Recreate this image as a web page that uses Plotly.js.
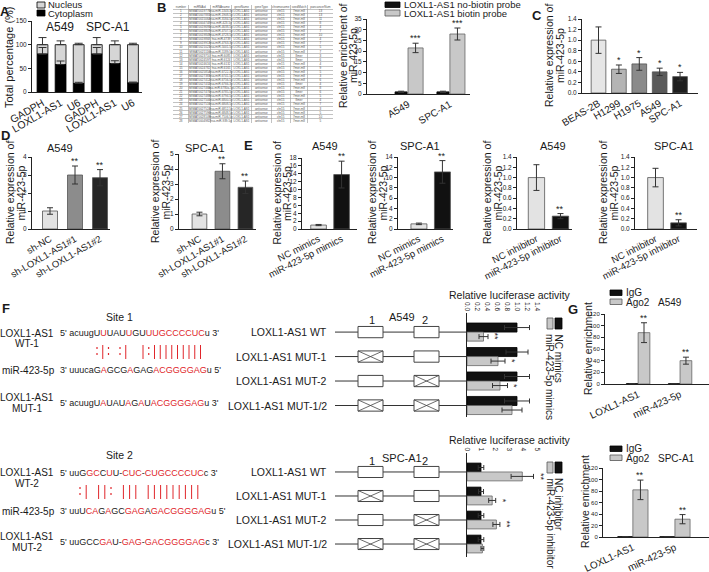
<!DOCTYPE html>
<html>
<head>
<meta charset="utf-8">
<script src="https://cdn.plot.ly/plotly-3.0.1.min.js"></script>
<style>html,body{margin:0;padding:0;background:#fff}#fig{width:709px;height:572px}</style>
</head>
<body>
<div id="fig"></div>
<script>
// ---------- A: nuclear / cytoplasmic fractionation ----------
const fracGenes = ['GADPH', 'LOXL1-AS1', 'U6', 'GADPH', 'LOXL1-AS1', 'U6'];
const cytoplasm = [80, 58, 18, 80, 60, 19];
const cytoplasmErr = [14, 7.5, 2.5, 14, 6, 2];
const nucleus = [20, 42, 82, 20, 40, 81];
const nucleusErr = [15, 8, 3, 15, 8, 3];

// ---------- B: starBase table + biotin pull-down ----------
const tblHeader = ['number', 'miRNAid', 'miRNAname', 'geneName', 'geneType', 'chromosome', 'seedMatch', 'pancancerNum'];
const tblNumber = ['1','2','3','4','5','6','7','8','9','10','11','12','13','14','15','16','17','18','19','20','21','22','23','24','25','26','27','28'];
const tblMirId = ['MIMAT0019776','MIMAT0007881','MIMAT0015064','MIMAT0004748','MIMAT0019695','MIMAT0019807','MIMAT0019849','MIMAT0019868','MIMAT0019913','MIMAT0021021','MIMAT0021116','MIMAT0023710','MIMAT0024597','MIMAT0024616','MIMAT0024782','MIMAT0025854','MIMAT0027383','MIMAT0027412','MIMAT0027432','MIMAT0027460','MIMAT0027470','MIMAT0027488','MIMAT0027500','MIMAT0027516','MIMAT0027524','MIMAT0027596','MIMAT0028109','MIMAT0004982'];
const tblMirName = ['hsa-miR-1343-3p','hsa-miR-1908-5p','hsa-miR-3184-5p','hsa-miR-423-5p','hsa-miR-4638-5p','hsa-miR-4707-5p','hsa-miR-4728-5p','hsa-miR-4739','hsa-miR-4763-3p','hsa-miR-5001-5p','hsa-miR-5189-5p','hsa-miR-6085','hsa-miR-6124','hsa-miR-6132','hsa-miR-6165','hsa-miR-6722-3p','hsa-miR-6741-5p','hsa-miR-6756-5p','hsa-miR-6766-3p','hsa-miR-6780a-5p','hsa-miR-6785-5p','hsa-miR-6794-5p','hsa-miR-6800-5p','hsa-miR-6808-5p','hsa-miR-6812-5p','hsa-miR-6848-5p','hsa-miR-7106-5p','hsa-miR-939-5p'];
const tblSeed = ['7mer-m8','7mer-m8','7mer-m8','7mer-m8','7mer-m8','7mer-m8','7mer-m8','7mer-m8','7mer-m8','7mer-m8','7mer-m8','8mer','8mer','7mer-m8','7mer-m8','7mer-m8','7mer-m8','7mer-m8','8mer','7mer-m8','8mer','7mer-m8','8mer','7mer-m8','7mer-m8','7mer-m8','7mer-m8','7mer-m8'];
const tblPancancer = ['13','13','11','8','4','7','10','4','7','5','7','3','6','4','9','5','3','6','4','8','6','5','4','7','3','5','10','5'];
const tblGeneName = 'LOXL1-AS1';
const tblGeneType = 'antisense';
const tblChrom = 'chr15';
const tblColWidths = [15, 21, 20, 19, 19, 18, 17, 24];

const pullCells = ['A549', 'SPC-A1'];
const pullNames = ['LOXL1-AS1 no-biotin probe', 'LOXL1-AS1 biotin probe'];
const noBiotin = [1.0, 1.0];
const noBiotinErr = [0.3, 0.3];
const biotin = [21.5, 28.0];
const biotinErr = [2.2, 2.8];

// ---------- C: cell lines ----------
const cLines = ['BEAS-2B', 'H1299', 'H1975', 'A549', 'SPC-A1'];
const cExpr = [1.0, 0.45, 0.55, 0.40, 0.31];
const cErr = [0.25, 0.08, 0.12, 0.07, 0.08];
const cStars = ['', '*', '*', '*', '*'];

// ---------- D: knockdown ----------
const dGroups = ['sh-NC', 'sh-LOXL1-AS1#1', 'sh-LOXL1-AS1#2'];
const dA549 = [1.0, 3.0, 2.85];
const dA549Err = [0.18, 0.5, 0.45];
const dSPC = [1.0, 3.85, 2.78];
const dSPCErr = [0.12, 0.5, 0.42];
const dStars = ['', '**', '**'];

// ---------- E: mimics / inhibitor ----------
const mimicGroups = ['NC mimics', 'miR-423-5p mimics'];
const inhibGroups = ['NC inhibitor', 'miR-423-5p inhibitor'];
const eA549Mim = [1.0, 13.8];
const eA549MimErr = [0.15, 3.4];
const eSPCMim = [1.0, 11.1];
const eSPCMimErr = [0.15, 2.2];
const eA549Inh = [1.0, 0.25];
const eA549InhErr = [0.25, 0.05];
const eSPCInh = [1.0, 0.12];
const eSPCInhErr = [0.18, 0.06];
const eStars = ['', '**'];

// ---------- F: luciferase ----------
const constructs = ['LOXL1-AS1 WT', 'LOXL1-AS1 MUT-1', 'LOXL1-AS1 MUT-2', 'LOXL1-AS1 MUT-1/2'];
const site1Mut = [false, true, false, true];
const site2Mut = [false, false, true, true];
const lucA549NC = [1.0, 1.0, 1.0, 1.0];
const lucA549NCErr = [0.25, 0.22, 0.25, 0.25];
const lucA549Mim = [0.33, 0.62, 0.66, 0.90];
const lucA549MimErr = [0.09, 0.14, 0.15, 0.2];
const lucA549Stars = ['**', '*', '*', ''];
const lucSPCNC = [1.0, 1.0, 1.0, 1.0];
const lucSPCNCErr = [0.2, 0.18, 0.2, 0.2];
const lucSPCInh = [3.95, 1.8, 2.1, 1.1];
const lucSPCInhErr = [0.8, 0.25, 0.25, 0.1];
const lucSPCStars = ['**', '*', '**', ''];
const lucA549Names = ['NC mimics', 'miR-423-5p mimics'];
const lucSPCNames = ['NC inhibitor', 'miR-423-5p inhibitor'];

// sequences: [..] marks red bases
const site1 = {
  wt: "acuugU[U]UAU[U]GU[UUGCCCCUC]u",
  mir: "uuucaG[A]GCG[A]GAG[ACGGGGAG]u",
  mut: "acuugU[A]UAU[A]G[A]U[ACGGGGAG]u",
  pairs: ":|: :|  |:|||||||||"
};
const site2 = {
  wt: "uuG[GC]C[U]U-[CUC]-[CUGCCCCUC]c",
  mir: "uuU[CA]G[A]GC[GAG]A[GACGGGGAG]u",
  mut: "uuGCC[GA]U-[GAG]-[GACGGGGAG]c",
  pairs: ":| ||: ||| |||||||||"
};

// ---------- G: RIP ----------
const ripTargets = ['LOXL1-AS1', 'miR-423-5p'];
const ripNames = ['IgG', 'Ago2'];
const igGA549 = [0.6, 0.5];
const ago2A549 = [88, 40];
const ago2A549Err = [17, 6];
const igGSPC = [0.6, 0.5];
const ago2SPC = [82, 31];
const ago2SPCErr = [17, 8];
const gStars = ['**', '**'];

// ================= drawing =================
const W = 709, H = 572;
const RED = '#e0262b';
const FONT = 'Liberation Sans, Arial, sans-serif';
const fx = v => v / W;
const fy = v => 1 - v / H;
const id = n => (n === 1 ? '' : n);
const idx = a => a.map((_, i) => i);
const rep = (v, n) => Array.from({length: n}, () => v);

const traces = [];
const annotations = [];
const shapes = [];

function ann(x, y, text, size, extra) {
  annotations.push(Object.assign({
    xref: 'paper', yref: 'paper', x: fx(x), y: fy(y), text: text,
    xanchor: 'center', yanchor: 'middle',
    showarrow: false, font: {size: size || 10.5, color: '#1a1a1a', family: FONT}
  }, extra || {}));
}
function rect(x0, y0, x1, y1, fill, line) {
  shapes.push({type: 'rect', xref: 'paper', yref: 'paper', x0: fx(x0), x1: fx(x1), y0: fy(y0), y1: fy(y1),
    fillcolor: fill, line: {color: line || '#000', width: 0.8}});
}
function vbar(n, vals, errs, o) {
  const t = {
    type: 'bar', x: idx(vals), y: vals, xaxis: 'x' + id(n), yaxis: 'y' + id(n),
    offset: o.offset, width: o.width,
    marker: {color: o.color, line: {color: o.line || '#555', width: 0.8}},
    error_y: {type: 'data', array: errs, visible: true, color: '#333', thickness: 1, width: o.cap || 3},
    hoverinfo: 'skip'
  };
  if (o.base) t.base = o.base;
  if (o.oneSided) { t.error_y.symmetric = false; t.error_y.arrayminus = rep(0, vals.length); }
  traces.push(t);
}
function hbar(n, vals, errs, o) {
  traces.push({
    type: 'bar', orientation: 'h', y: idx(vals), x: vals, xaxis: 'x' + id(n), yaxis: 'y' + id(n),
    offset: o.offset, width: o.width,
    marker: {color: o.color, line: {color: o.line || '#555', width: 0.8}},
    error_x: {type: 'data', array: errs, visible: true, color: '#333', thickness: 1, width: 2.5},
    hoverinfo: 'skip'
  });
}
function stars(n, vals, errs, marks, center, size) {
  marks.forEach((s, i) => {
    if (!s) return;
    annotations.push({xref: 'x' + id(n), yref: 'y' + id(n), x: i + center, y: vals[i] + errs[i],
      xanchor: 'center', yanchor: 'bottom', yshift: -2, text: s, showarrow: false,
      font: {size: size || 9, color: '#222', family: FONT}});
  });
}
function hstars(n, vals, errs, marks, center) {
  marks.forEach((s, i) => {
    if (!s) return;
    annotations.push({xref: 'x' + id(n), yref: 'y' + id(n), x: vals[i] + errs[i], y: i + center,
      xanchor: 'left', yanchor: 'middle', xshift: 0, textangle: 90, text: s, showarrow: false,
      font: {size: 9, color: '#222', family: FONT}});
  });
}
function yTitle(x1, x2, yc, l1, l2, size) {
  ann(x1, yc, l1, size || 10.5, {textangle: -90});
  if (l2) ann(x2, yc, l2, size || 10.5, {textangle: -90});
}

const layout = {
  width: W, height: H, margin: {l: 0, r: 0, t: 0, b: 0},
  paper_bgcolor: '#fff', plot_bgcolor: 'rgba(0,0,0,0)',
  font: {family: FONT, color: '#1a1a1a'},
  barmode: 'overlay', showlegend: false
};
function axes(n, x0, x1, xr, ticktext, top, bottom, yr, dtick, xo, yo) {
  layout['xaxis' + id(n)] = Object.assign({
    domain: [fx(x0), fx(x1)], range: xr, anchor: 'y' + id(n),
    tickmode: 'array', tickvals: ticktext ? idx(ticktext) : undefined, ticktext: ticktext,
    showline: true, linecolor: '#222', linewidth: 1, ticks: '', tickangle: -30,
    tickfont: {size: 10, color: '#1a1a1a'}, showgrid: false, zeroline: false, fixedrange: true
  }, xo || {});
  layout['yaxis' + id(n)] = Object.assign({
    domain: [fy(bottom), fy(top)], range: yr, anchor: 'x' + id(n), dtick: dtick,
    showline: true, linecolor: '#222', linewidth: 1, ticks: 'outside', ticklen: 3, tickwidth: 1,
    tickcolor: '#222', tickfont: {size: 6.5, color: '#222'}, showgrid: false, zeroline: false, fixedrange: true
  }, yo || {});
}

// ---- A ----
axes(1, 32, 142, [-0.58, 5.5], fracGenes, 21, 92, [0, 150], 50, {tickfont: {size: 10.5}});
vbar(1, nucleus, nucleusErr, {offset: -0.3, width: 0.6, color: '#d6d6d6', line: '#000', base: cytoplasm, oneSided: true, cap: 4});
vbar(1, cytoplasm, cytoplasmErr, {offset: -0.3, width: 0.6, color: '#000', line: '#000', oneSided: true, cap: 4});
ann(5, 11, '<b>A</b>', 13);
ann(60, 27, 'A549', 12);
ann(108, 27, 'SPC-A1', 12);
yTitle(9, 0, 57, 'Total percentage (%)', null, 11);
rect(37, 2, 45, 8, '#d6d6d6', '#000');
rect(37, 10, 45, 16, '#000', '#000');
ann(46, 4.8, 'Nucleus', 9.5, {xanchor: 'left'});
ann(46, 13.5, 'Cytoplasm', 9.5, {xanchor: 'left'});

// ---- B: table drawn as text on a hidden grid ----
ann(161, 8, '<b>B</b>', 13);
const colEdges = [0];
tblColWidths.forEach(w => colEdges.push(colEdges[colEdges.length - 1] + w));
const colCenters = tblColWidths.map((w, i) => colEdges[i] + w / 2);
const tblCols = [tblNumber, tblMirId, tblMirName, rep(tblGeneName, 28), rep(tblGeneType, 28), rep(tblChrom, 28), tblSeed, tblPancancer];
const tx = [], ty = [], tt = [];
tblCols.forEach((col, c) => {
  tx.push(colCenters[c]); ty.push(0.5); tt.push(tblHeader[c]);
  col.forEach((v, r) => { tx.push(colCenters[c]); ty.push(r + 1.5); tt.push(v); });
});
traces.push({type: 'scatter', mode: 'text', x: tx, y: ty, text: tt, xaxis: 'x14', yaxis: 'y14',
  textfont: {size: 3, color: '#555', family: FONT}, hoverinfo: 'skip', cliponaxis: false});
layout.xaxis14 = {domain: [fx(173), fx(333)], range: [0, colEdges[colEdges.length - 1]], anchor: 'y14',
  tickmode: 'array', tickvals: colEdges, showticklabels: false, ticks: '', showgrid: true, gridcolor: '#9a9a9a', gridwidth: 0.6,
  zeroline: false, showline: false, fixedrange: true};
layout.yaxis14 = {domain: [fy(123), fy(5)], range: [29, 0], anchor: 'x14',
  tickmode: 'array', tickvals: idx(rep(0, 30)), showticklabels: false, ticks: '', showgrid: true, gridcolor: '#9a9a9a', gridwidth: 0.6,
  zeroline: false, showline: false, fixedrange: true};

axes(2, 367, 470, [-0.98, 1.48], pullCells, 19, 94, [0, 35], 5);
vbar(2, noBiotin, noBiotinErr, {offset: -0.31, width: 0.29, color: '#111', line: '#000'});
vbar(2, biotin, biotinErr, {offset: 0, width: 0.36, color: '#c8c8c8', line: '#666'});
stars(2, biotin, biotinErr, ['***', '***'], 0.18);
yTitle(343, 353, 56, 'Relative enrichment of', 'miR-423-5p');
rect(385, 2, 400, 7.5, '#111', '#000');
rect(385, 10, 400, 16, '#c8c8c8', '#555');
ann(402, 4.8, pullNames[0], 9.5, {xanchor: 'left'});
ann(402, 13.5, pullNames[1], 9.5, {xanchor: 'left'});

// ---- C ----
ann(537, 15, '<b>C</b>', 13);
axes(3, 582, 698, [-0.81, 4.88], cLines, 19, 93, [0, 1.4], 0.2, {}, {tickformat: '.1f'});
traces.push({
  type: 'bar', x: idx(cLines), y: cExpr, xaxis: 'x3', yaxis: 'y3', offset: -0.36, width: 0.72,
  marker: {color: ['#e6e6e6', '#b4b4b4', '#8a8a8a', '#5a5a5a', '#1e1e1e'], line: {color: '#555', width: 0.8}},
  error_y: {type: 'data', array: cErr, color: '#333', thickness: 1, width: 3}, hoverinfo: 'skip'
});
stars(3, cExpr, cErr, cStars, 0);
yTitle(549, 560, 56, 'Relative expression of', 'miR-423-5p');

// ---- D ----
ann(5, 135, '<b>D</b>', 13);
axes(4, 32, 110, [-0.72, 2.4], dGroups, 157, 229, [0, 4], 1, {tickfont: {size: 9.5}});
traces.push({
  type: 'bar', x: idx(dGroups), y: dA549, xaxis: 'x4', yaxis: 'y4', offset: -0.3, width: 0.6,
  marker: {color: ['#e3e3e3', '#8c8c8c', '#262626'], line: {color: '#555', width: 0.8}},
  error_y: {type: 'data', array: dA549Err, color: '#333', thickness: 1, width: 3}, hoverinfo: 'skip'
});
stars(4, dA549, dA549Err, dStars, 0);
ann(60, 148, 'A549', 11);
yTitle(10, 20.5, 193, 'Relative expression of', 'miR-423-5p');

axes(5, 179, 256, [-0.89, 2.46], dGroups, 154, 229, [0, 5], 1, {tickfont: {size: 9.5}});
traces.push({
  type: 'bar', x: idx(dGroups), y: dSPC, xaxis: 'x5', yaxis: 'y5', offset: -0.32, width: 0.64,
  marker: {color: ['#e3e3e3', '#8c8c8c', '#262626'], line: {color: '#555', width: 0.8}},
  error_y: {type: 'data', array: dSPCErr, color: '#333', thickness: 1, width: 3}, hoverinfo: 'skip'
});
stars(5, dSPC, dSPCErr, dStars, 0);
ann(205, 148, 'SPC-A1', 11);
yTitle(155, 165.5, 192, 'Relative expression of', 'miR-423-5p');

// ---- E ----
ann(248, 145, '<b>E</b>', 13);
const eCharts = [
  [6, 302, 357, [-0.72, 1.67], mimicGroups, 158, [0, 18], 2, eA549Mim, eA549MimErr, 325, 'A549', 276, 286.5],
  [7, 398, 453, [-0.89, 1.45], mimicGroups, 157, [0, 14], 2, eSPCMim, eSPCMimErr, 420, 'SPC-A1', 372, 382.5],
  [8, 517, 572, [-0.81, 1.48], inhibGroups, 157, [0, 1.4], 0.2, eA549Inh, eA549InhErr, 553, 'A549', 487, 497.5],
  [9, 635, 697, [-0.89, 1.8], inhibGroups, 157, [0, 1.4], 0.2, eSPCInh, eSPCInhErr, 674, 'SPC-A1', 603, 613.5]
];
eCharts.forEach(c => {
  const [n, x0, x1, xr, cats, top, yr, dt, vals, errs, tx, title, t1, t2] = c;
  axes(n, x0, x1, xr, cats, top, 229, yr, dt, {tickfont: {size: 9.5}, tickangle: -27},
    dt < 1 ? {tickformat: '.1f'} : {});
  traces.push({
    type: 'bar', x: idx(cats), y: vals, xaxis: 'x' + n, yaxis: 'y' + n, offset: -0.34, width: 0.68,
    marker: {color: ['#e3e3e3', '#111'], line: {color: '#555', width: 0.8}},
    error_y: {type: 'data', array: errs, color: '#333', thickness: 1, width: 3}, hoverinfo: 'skip'
  });
  stars(n, vals, errs, eStars, 0);
  ann(tx, 146, title, 11);
  yTitle(t1, t2, (top + 229) / 2, 'Relative expression of', 'miR-423-5p');
});

// ---- F: sequences ----
ann(6, 308, '<b>F</b>', 13);
const colorSeq = s => s.replace(/\[([^\]]+)\]/g, '<span style="color:' + RED + '">$1</span>');
function siteBlock(site, title, yT, yWT, yPair, yMir, yMut, wtName, mutName, pairX0, pitch) {
  ann(120, yT, title, 10.5);
  ann(27, yWT, 'LOXL1-AS1', 10);
  ann(27, yWT + 10.5, wtName, 10);
  ann(58, yWT, "5' " + colorSeq(site.wt) + " 3'", 9, {xanchor: 'left'});
  ann(28, yMir, 'miR-423-5p', 10);
  ann(58, yMir, "3' " + colorSeq(site.mir) + " 5'", 9, {xanchor: 'left'});
  ann(27, yMut - 5.5, 'LOXL1-AS1', 10);
  ann(27, yMut + 5.5, mutName, 10);
  ann(58, yMut, "5' " + colorSeq(site.mut) + " 3'", 9, {xanchor: 'left'});
  site.pairs.split('').forEach((ch, i) => {
    const x = pairX0 + i * pitch;
    if (ch === '|') {
      shapes.push({type: 'line', xref: 'paper', yref: 'paper', x0: fx(x), x1: fx(x), y0: fy(yPair - 7), y1: fy(yPair + 7),
        line: {color: RED, width: 1}});
    } else if (ch === ':') {
      shapes.push({type: 'line', xref: 'paper', yref: 'paper', x0: fx(x), x1: fx(x), y0: fy(yPair - 5), y1: fy(yPair + 4),
        line: {color: RED, width: 1.2, dash: '2px,4px'}});
    }
  });
}
siteBlock(site1, 'Site 1', 317, 333, 352, 370, 403, 'WT-1', 'MUT-1', 97, 5.75);
siteBlock(site2, 'Site 2', 455, 473, 492, 511, 542, 'WT-2', 'MUT-2', 80, 6.2);

// ---- F: constructs + luciferase ----
function lucBlock(n, xr, dtick, yTop, yBot, yr, ncVals, ncErr, trVals, trErr, marks, names, cell, headY, legTop, titleY) {
  layout['xaxis' + n] = {
    domain: [fx(467), fx(537)], range: xr, anchor: 'y' + n, side: 'top', dtick: dtick,
    tickformat: dtick < 1 ? '.1f' : 'd', tickangle: 90, ticks: '', showline: false,
    tickfont: {size: 6.5, color: '#222'}, showgrid: false, zeroline: false, fixedrange: true
  };
  layout['yaxis' + n] = {
    domain: [fy(yBot), fy(yTop)], range: yr, anchor: 'x' + n, showticklabels: false, ticks: '',
    showline: true, linecolor: '#222', linewidth: 1, showgrid: false, zeroline: false, fixedrange: true
  };
  hbar(n, ncVals, ncErr, {offset: -0.37, width: 0.37, color: '#111', line: '#000'});
  hbar(n, trVals, trErr, {offset: 0, width: 0.37, color: '#c8c8c8', line: '#666'});
  hstars(n, trVals, trErr, marks, 0.185);
  ann(510, titleY, 'Relative luciferase activity', 10.5);
  // legend (rotated)
  rect(555, legTop, 562, legTop + 11, '#111', '#000');
  rect(547, legTop, 553, legTop + 11, '#c8c8c8', '#555');
  ann(558.5, legTop + 14, names[0], 10, {textangle: 90, yanchor: 'top'});
  ann(550, legTop + 14, names[1], 10, {textangle: 90, yanchor: 'top'});
  // construct diagram
  ann(372, headY + 3, '1', 11);
  ann(425, headY + 3, '2', 11);
  ann(402, headY, cell, 11);
  constructs.forEach((name, i) => {
    const yref = 'y' + n;
    shapes.push({type: 'line', xref: 'paper', yref: yref, x0: fx(335), x1: fx(466), y0: i, y1: i, line: {color: '#333', width: 1}});
    [[358, 383, site1Mut[i]], [414, 439, site2Mut[i]]].forEach(b => {
      shapes.push({type: 'rect', xref: 'paper', yref: yref, x0: fx(b[0]), x1: fx(b[1]), y0: i - 0.23, y1: i + 0.23,
        fillcolor: '#fff', line: {color: '#444', width: 1}});
      if (b[2]) {
        shapes.push({type: 'line', xref: 'paper', yref: yref, x0: fx(b[0]), x1: fx(b[1]), y0: i - 0.23, y1: i + 0.23, line: {color: '#444', width: 0.8}});
        shapes.push({type: 'line', xref: 'paper', yref: yref, x0: fx(b[0]), x1: fx(b[1]), y0: i + 0.23, y1: i - 0.23, line: {color: '#444', width: 0.8}});
      }
    });
    annotations.push({xref: 'paper', yref: yref, x: fx(329), y: i, xanchor: 'right', yanchor: 'middle', text: name, showarrow: false,
      font: {size: 10.5, color: '#1a1a1a', family: FONT}});
  });
}
lucBlock(10, [0, 1.4], 0.2, 313, 417, [3.47, -0.78], lucA549NC, lucA549NCErr, lucA549Mim, lucA549MimErr, lucA549Stars, lucA549Names, 'A549', 317, 318, 295);
lucBlock(11, [0, 5], 1, 453, 557, [3.54, -0.79], lucSPCNC, lucSPCNCErr, lucSPCInh, lucSPCInhErr, lucSPCStars, lucSPCNames, 'SPC-A1', 458, 462, 440);

// ---- G ----
ann(573, 309, '<b>G</b>', 13);
function ripBlock(n, x0, xr, top, bottom, igg, ago, agoErr, gw, cell, legY, yc) {
  axes(n, x0, 709, xr, ripTargets, top, bottom, [0, 120], 20, {tickangle: -25}, {tickfont: {size: 6, color: '#222'}});
  vbar(n, igg, [0, 0], {offset: -gw, width: gw, color: '#111', line: '#000'});
  vbar(n, ago, agoErr, {offset: 0, width: gw, color: '#c8c8c8', line: '#666'});
  stars(n, ago, agoErr, gStars, gw / 2);
  rect(610, legY - 3, 622, legY + 2.5, '#111', '#000');
  rect(610, legY + 6, 622, legY + 11.5, '#c8c8c8', '#555');
  ann(624, legY - 0.5, ripNames[0], 10, {xanchor: 'left'});
  ann(624, legY + 9, ripNames[1], 10, {xanchor: 'left'});
  ann(656, legY + 9, cell, 10, {xanchor: 'left'});
  yTitle(yc[0], 0, yc[1], 'Relative enrichment', null, 10.5);
}
ripBlock(12, 605, [-0.79, 1.69], 314, 384, igGA549, ago2A549, ago2A549Err, 0.28, 'A549', 293, [588, 349]);
ripBlock(13, 603, [-0.71, 1.81], 468, 537, igGSPC, ago2SPC, ago2SPCErr, 0.36, 'SPC-A1', 449, [585, 502]);

layout.annotations = annotations;
layout.shapes = shapes;
Plotly.newPlot('fig', traces, layout, {staticPlot: true, displayModeBar: false});
</script>
</body>
</html>
